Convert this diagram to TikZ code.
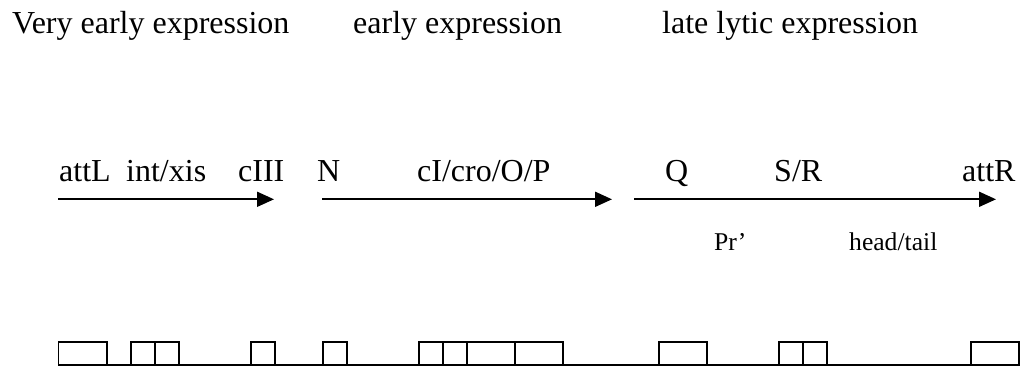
\documentclass[tikz,border=0pt]{standalone}
\usepackage{fontspec}
\setmainfont{Liberation Serif}
\usetikzlibrary{arrows.meta}
\tikzset{
  lbl/.style={anchor=base west, inner sep=0pt, font=\fontsize{32}{36}\selectfont},
  sublbl/.style={anchor=base west, inner sep=0pt, font=\fontsize{25.6}{30}\selectfont},
  gene/.style={->, >={Triangle[length=17pt,width=15pt]}, line width=1.8pt},
  seg/.style={draw, line width=1.8pt},
}
\begin{document}
\begin{tikzpicture}[x=1pt,y=-1pt]
\useasboundingbox (0,0) rectangle (1025,367);
% expression phases
\node[lbl] (ve)   at (12,33)  {Very early expression};
\node[lbl] (ea)   at (353,33) {early expression};
\node[lbl] (late) at (662,33) {late lytic expression};
% gene labels
\node[lbl] (attL) at (59,181.7)  {attL};
\node[lbl] (int)  at (126,181.7) {int/xis};
\node[lbl] (cIII) at (238,181.7) {cIII};
\node[lbl] (N)    at (317,181.7) {N};
\node[lbl] (cI)   at (417,181.7) {cI/cro/O/P};
\node[lbl] (Q)    at (665,181.7) {Q};
\node[lbl] (SR)   at (774,181.7) {S/R};
\node[lbl] (attR) at (962,181.7) {attR};
\node[sublbl] (Pr) at (714,250) {Pr’};
\node[sublbl] (ht) at (849,250) {head/tail};
% transcription arrows
\coordinate (a1s) at (58,199.3);  \coordinate (a1e) at (274,199.3);
\coordinate (a2s) at (322,199.3); \coordinate (a2e) at (612,199.3);
\coordinate (a3s) at (634,199.3); \coordinate (a3e) at (996,199.3);
\draw[gene] (a1s) -- (a1e);
\draw[gene] (a2s) -- (a2e);
\draw[gene] (a3s) -- (a3e);
% genome map
\draw[line width=1.8pt] (58.5,365.3) -- (1019,365.3);
\foreach \l/\r in {58.5/107.3, 130.7/155, 155/179.3, 250.7/275.3, 322.7/347.3,
                   418.7/443.3, 443.3/466.7, 466.7/515, 515/563.3, 658.7/707.3,
                   778.7/803, 803/827.3, 970.7/1019}
  \draw[seg] (\l,342) rectangle (\r,365.3);
\end{tikzpicture}
\end{document}
